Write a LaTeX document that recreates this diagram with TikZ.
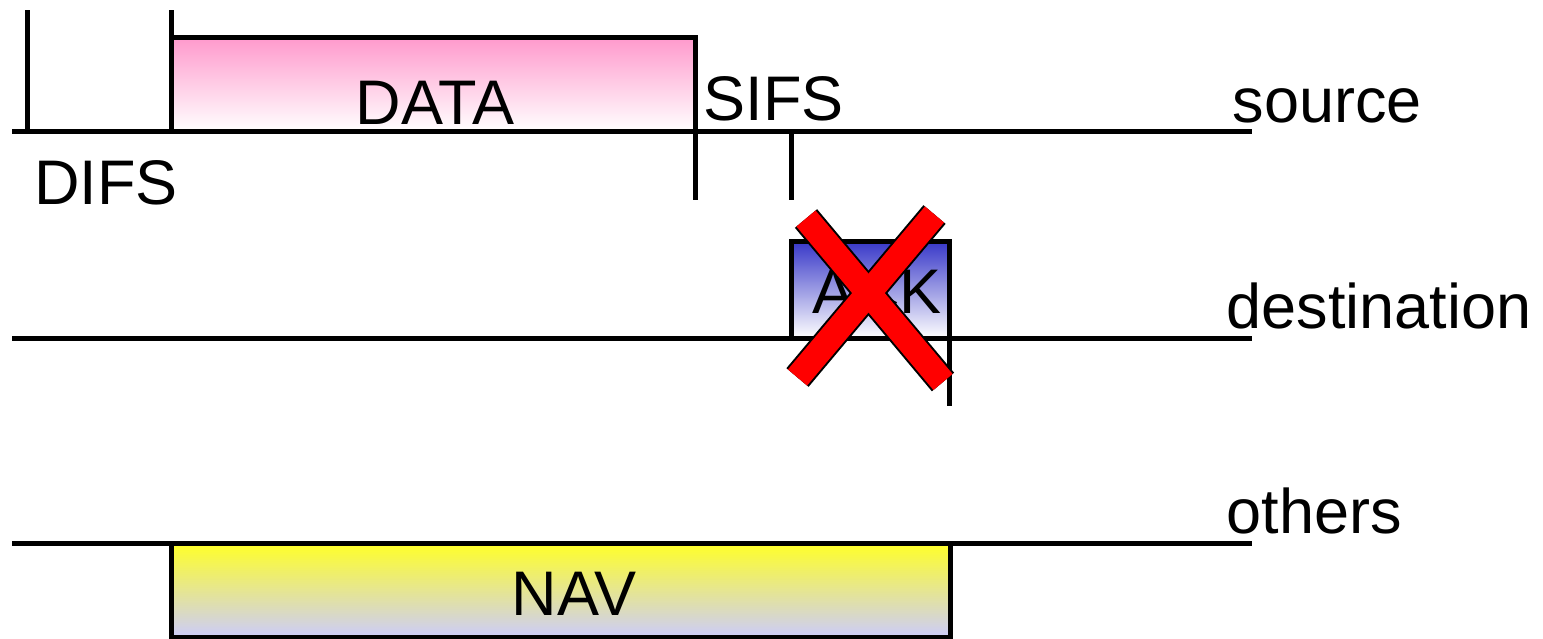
\documentclass[tikz,border=0pt]{standalone}
\usepackage{fontspec}
\setmainfont{Liberation Sans}
\begin{document}
\begin{tikzpicture}[x=1pt,y=-1pt,line width=5pt,
  lbl/.style={font=\fontsize{63}{70}\selectfont, inner sep=0pt, anchor=base west},
  ctr/.style={font=\fontsize{63}{70}\selectfont, inner sep=0pt, anchor=base},
  framebox/.style={draw=black, line width=5pt, rectangle, inner sep=0pt, outer sep=0pt, anchor=north west},
  tick/.style={draw=black, line width=5pt},
  xbar/.style={line width=29pt, black},
  xfill/.style={line width=25pt, red}]
\useasboundingbox (0,0) rectangle (1543,638);
% time lines
\coordinate (s0) at (12,131); \coordinate (s1) at (1252,131);
\coordinate (d0) at (12,338); \coordinate (d1) at (1252,338);
\coordinate (o0) at (12,543); \coordinate (o1) at (1252,543);
% boxes
\node[framebox, top color={rgb,255:red,255;green,153;blue,204}, bottom color=white,
  minimum width=524pt, minimum height=94pt] (data) at (171,37) {};
\node[framebox, top color={rgb,255:red,55;green,55;blue,200}, bottom color=white,
  minimum width=158pt, minimum height=97pt] (ack) at (791,241) {};
\node[framebox, top color={rgb,255:red,255;green,255;blue,40}, bottom color={rgb,255:red,204;green,204;blue,250},
  minimum width=779pt, minimum height=94pt] (nav) at (171,543) {};
\draw (s0) -- (s1);
\draw (d0) -- (d1);
\draw (o0) -- (o1);
% ticks
\draw[tick] (27,10) -- (27,131);
\draw[tick] (171,10) -- (171,131);
\draw[tick] (695,131) -- (695,200);
\draw[tick] (791,134) -- (791,200);
\draw[tick] (949,338) -- (949,406);
% texts
\node[ctr] (tdata) at (435,124) {DATA};
\node[lbl] (tsifs) at (701,120) {SIFS};
\node[lbl] (tdifs) at (32,204) {DIFS};
\node[ctr] (tack) at (877,313) {ACK};
\node[ctr] (tnav) at (574,615) {NAV};
\node[lbl] (tsrc) at (1230,122) {source};
\node[lbl] (tdst) at (1224,328) {destination};
\node[lbl] (toth) at (1224,533) {others};
% red cross
\coordinate (xa1) at (806,218.5); \coordinate (xa2) at (943,382);
\coordinate (xb1) at (797.5,377.5); \coordinate (xb2) at (934.5,214.5);
\draw[xbar] (xa1) -- (xa2);
\draw[xbar] (xb1) -- (xb2);
\draw[xfill] (xa1) -- (xa2);
\draw[xfill] (xb1) -- (xb2);
\end{tikzpicture}
\end{document}
